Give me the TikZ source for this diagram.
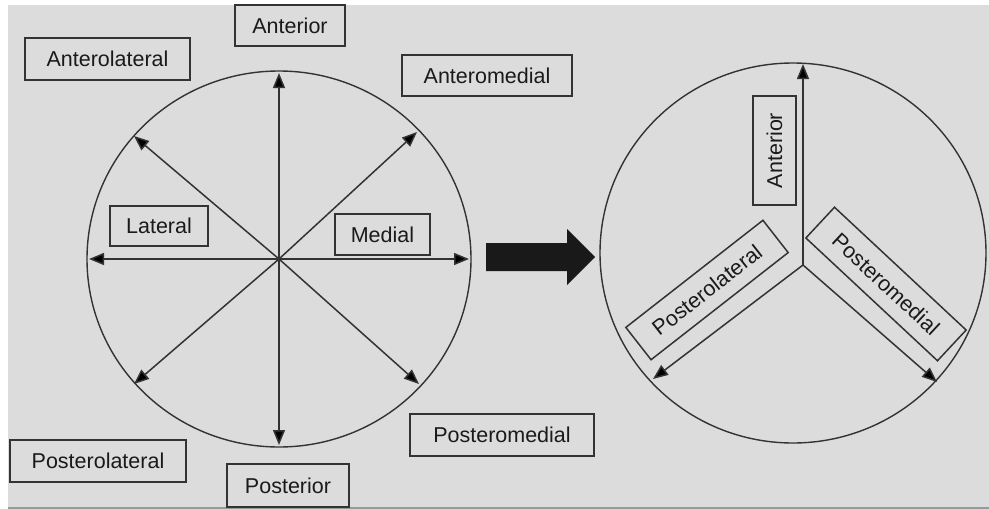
\documentclass[tikz,border=0pt]{standalone}
\usepackage{fontspec}
\setmainfont{Liberation Sans}
\usetikzlibrary{arrows.meta}
\definecolor{bg}{HTML}{DCDCDC}
\definecolor{ln}{HTML}{333333}
\definecolor{tx}{HTML}{1A1A1A}
\tikzset{
  lbl/.style={draw=ln, line width=1.5pt, rectangle, inner sep=0pt, text=tx,
    font=\fontsize{21.5}{25}\selectfont},
  ray/.style={draw=ln, line width=1.5pt, -{Triangle[length=15pt,width=12pt,fill=black]}},
  rim/.style={draw=ln, line width=1.4pt}
}
\begin{document}
\begin{tikzpicture}[x=1pt,y=-1pt]
\useasboundingbox (0,0) rectangle (989,509);
\fill[white] (0,0) rectangle (989,509);
\fill[bg] (8,5) rectangle (989,509);
\draw[gray!80, line width=1.5pt] (8,508) -- (989,508);

% left circle
\draw[rim] (279,259) ellipse [x radius=192, y radius=188];
\coordinate (c1) at (279,259);
\coordinate (eN) at (279,73);
\coordinate (eS) at (279,445);
\coordinate (eW) at (89,259);
\coordinate (eE) at (469,259);
\coordinate (eNW) at (134,136);
\coordinate (eNE) at (417,132);
\coordinate (eSW) at (134,384);
\coordinate (eSE) at (419,384);
\foreach \e in {eN,eS,eW,eE,eNW,eNE,eSW,eSE} \draw[ray] (c1) -- (\e);

\node[lbl, minimum width=110, minimum height=41] (ant) at (290,25.5) {Anterior};
\node[lbl, minimum width=165, minimum height=42] (antlat) at (107.5,59) {Anterolateral};
\node[lbl, minimum width=170, minimum height=41] (antmed) at (487,75.5) {Anteromedial};
\node[lbl, minimum width=98, minimum height=40] (lat) at (159,226) {Lateral};
\node[lbl, minimum width=95, minimum height=41] (med) at (382.5,234.5) {Medial};
\node[lbl, minimum width=176, minimum height=42] (postlat) at (98,461) {Posterolateral};
\node[lbl, minimum width=122, minimum height=43] (post) at (288,485.5) {Posterior};
\node[lbl, minimum width=184, minimum height=42] (postmed) at (502,435) {Posteromedial};

% big arrow
\fill[black!90] (486,243) -- (567,243) -- (567,229) -- (595,257) -- (567,285) -- (567,271) -- (486,271) -- cycle;

% right circle
\draw[rim] (793,253) ellipse [x radius=193, y radius=190];
\coordinate (c2) at (803,265);
\coordinate (fN) at (803,64);
\coordinate (fSW) at (653,379);
\coordinate (fSE) at (937,382);
\foreach \e in {fN,fSW,fSE} \draw[ray] (c2) -- (\e);

\node[lbl, rotate=90, minimum width=109, minimum height=43] (rant) at (774.5,150.5) {Anterior};
\node[lbl, rotate=38, minimum width=174, minimum height=41] (rpostlat) at (707,290) {Posterolateral};
\node[lbl, rotate=-43, minimum width=180, minimum height=42] (rpostmed) at (886,284) {Posteromedial};
\end{tikzpicture}
\end{document}
